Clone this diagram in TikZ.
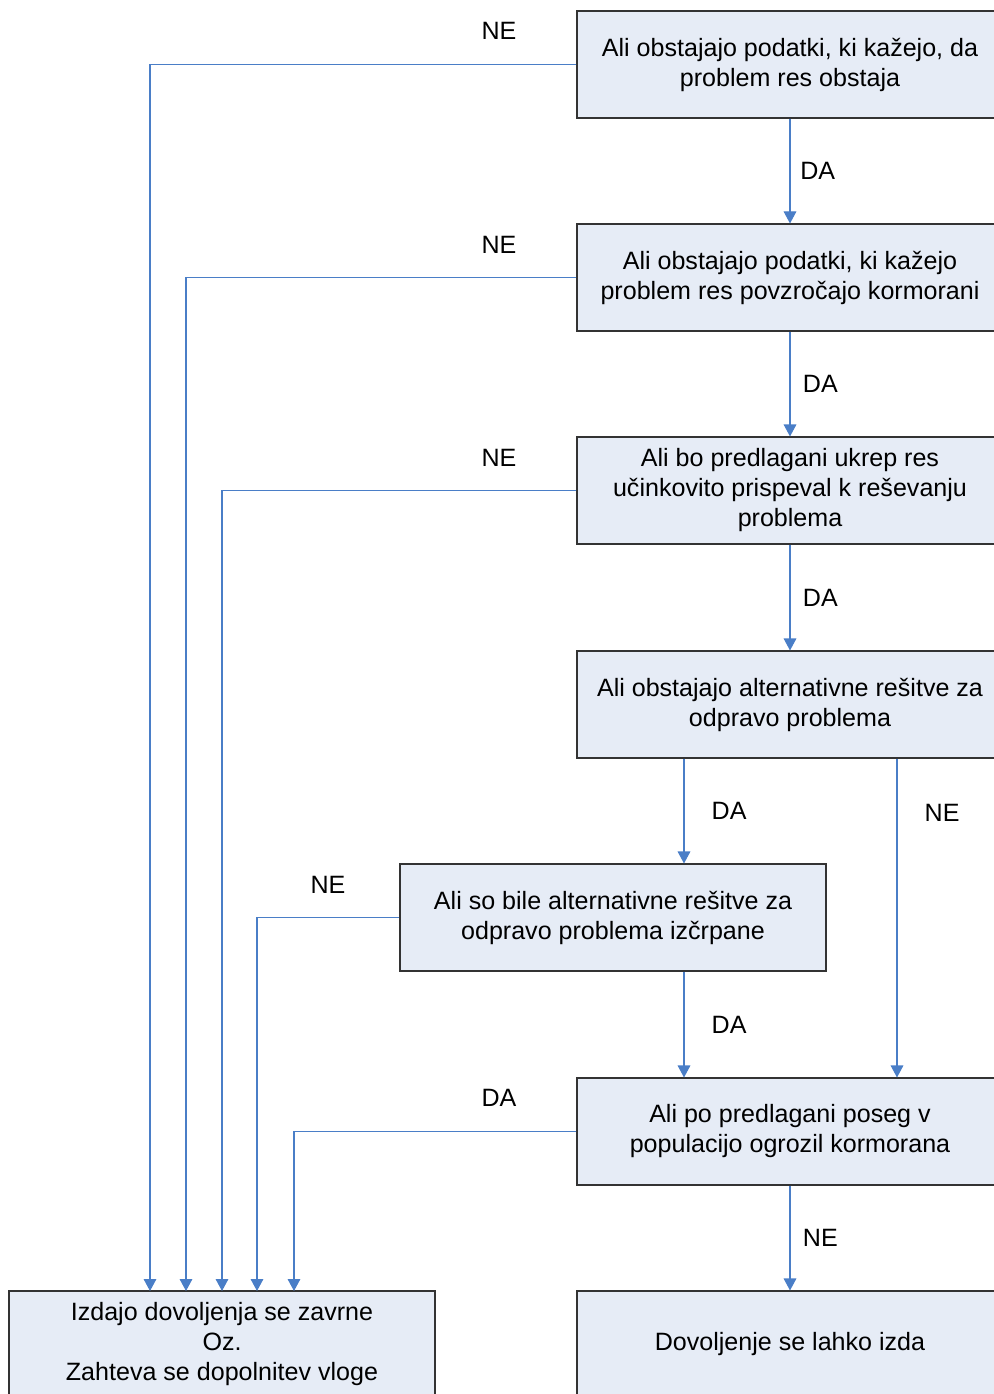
\documentclass[tikz,border=0pt]{standalone}
\usepackage{fontspec}
\setmainfont{Liberation Sans}
\usetikzlibrary{arrows.meta}
\definecolor{boxfill}{HTML}{E6ECF6}
\definecolor{boxline}{HTML}{333333}
\definecolor{linkblue}{HTML}{4A7EC7}
\begin{document}
\begin{tikzpicture}[x=0.75pt, y=-0.75pt,
        box/.style={draw=boxline, fill=boxfill, line width=0.8pt, minimum width=319.5pt, minimum height=80.25pt, align=center, inner sep=0pt, font=\fontsize{18.8}{22.5}\selectfont},
        link/.style={draw=linkblue, line width=0.8pt, -{Triangle[width=9.5pt,length=9pt]}},
        lbl/.style={font=\fontsize{18.8}{22.5}\selectfont}]
        \useasboundingbox (0,0) rectangle (994,1394);

        % Questions
        \node[box] (q1) at (790,64.5) {Ali obstajajo podatki, ki kažejo, da\\problem res obstaja};
        \node[box] (q2) at (790,277.5) {Ali obstajajo podatki, ki kažejo\\problem res povzročajo kormorani};
        \node[box] (q3) at (790,490.5) {Ali bo predlagani ukrep res\\učinkovito prispeval k reševanju\\problema};
        \node[box] (q4) at (790,704.5) {Ali obstajajo alternativne rešitve za\\odpravo problema};
        \node[box] (q5) at (613,917.5) {Ali so bile alternativne rešitve za\\odpravo problema izčrpane};
        \node[box] (q6) at (790,1131.5) {Ali po predlagani poseg v\\populacijo ogrozil kormorana};

        % Outcomes
        \node[box] (stop) at (222,1344.5) {Izdajo dovoljenja se zavrne\\Oz.\\Zahteva se dopolnitev vloge};
        \node[box] (ok) at (790,1344.5) {Dovoljenje se lahko izda};

        % DA path
        \draw[link] (q1) -- (q2) node[lbl, midway, right=4pt] {DA};
        \draw[link] (q2) -- (q3) node[lbl, midway, right=6pt] {DA};
        \draw[link] (q3) -- (q4) node[lbl, midway, right=6pt] {DA};
        \coordinate (da) at (684,0);
        \coordinate (ne) at (897,0);
        \draw[link] (q4.south -| da) -- (q5.north -| da) node[lbl, midway, right=17pt] {DA};
        \draw[link] (q4.south -| ne) -- (q6.north -| ne) node[lbl, pos=0.17, right=17pt] {NE};
        \draw[link] (q5.south -| da) -- (q6.north -| da) node[lbl, midway, right=17pt] {DA};
        \draw[link] (q6) -- (ok) node[lbl, midway, right=6pt] {NE};

        % Rejections
        \foreach \q/\x in {1/150, 2/186, 3/222, 5/257, 6/294} {
            \coordinate (in\q) at (\x,1291);
            \draw[link] (q\q.west) -| (in\q);
        }
        \node[lbl] (ne1) at (499,31) {NE};
        \node[lbl] (ne2) at (499,245) {NE};
        \node[lbl] (ne3) at (499,458) {NE};
        \node[lbl] (ne5) at (328,885) {NE};
        \node[lbl] (da6) at (499,1098) {DA};
    \end{tikzpicture}
\end{document}
